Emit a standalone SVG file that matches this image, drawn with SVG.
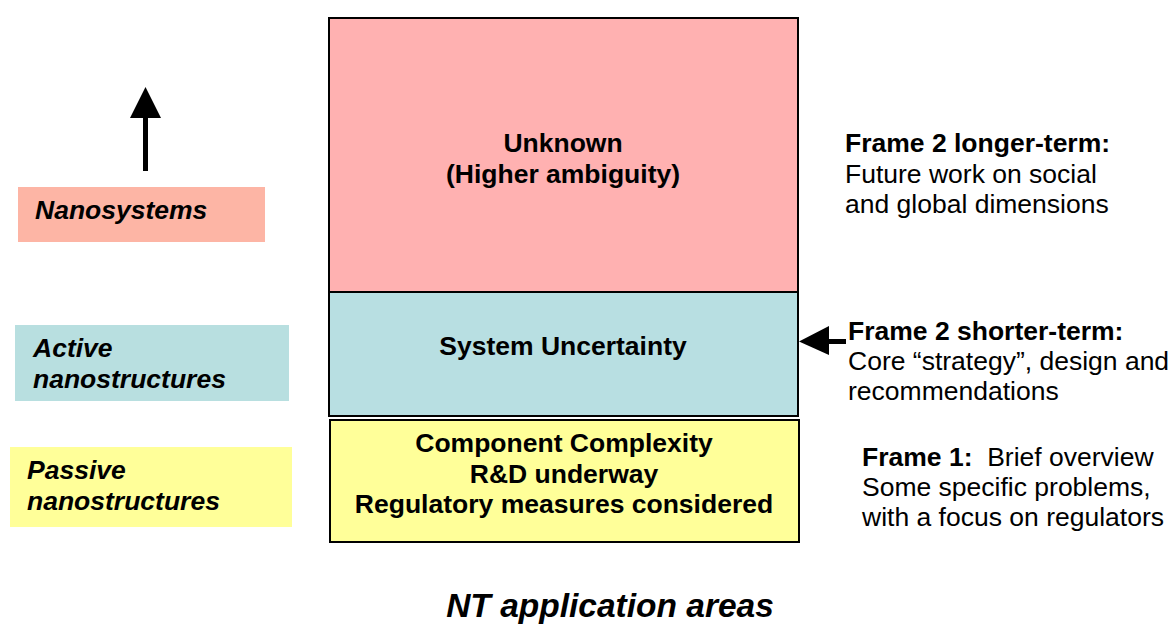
<svg xmlns="http://www.w3.org/2000/svg" width="1173" height="624" viewBox="0 0 1173 624">
<style>
text{font-family:"Liberation Sans",Arial,sans-serif;font-size:26.5px;fill:#000}
.b{font-weight:bold}
.bi{font-weight:bold;font-style:italic}
.c{text-anchor:middle}
.box{stroke:#000;stroke-width:2}
</style>
<rect width="1173" height="624" fill="#fff"/>
<g id="label-nanosystems"><rect x="18" y="187" width="247" height="55" fill="#FDB5A5"/><text class="bi" x="35" y="219">Nanosystems</text></g>
<g id="label-active"><rect x="15" y="325" width="274" height="76" fill="#B8DFE0"/><text class="bi" x="33" y="357">Active</text><text class="bi" x="33" y="388">nanostructures</text></g>
<g id="label-passive"><rect x="10" y="447" width="282" height="80" fill="#FFFF99"/><text class="bi" x="27" y="479">Passive</text><text class="bi" x="27" y="510">nanostructures</text></g>
<g id="unknown"><rect class="box" x="329" y="18" width="469" height="274" fill="#FFB1B1"/><text class="b c" x="563" y="152">Unknown</text><text class="b c" x="563" y="183">(Higher ambiguity)</text></g>
<g id="system"><rect class="box" x="329" y="292" width="469" height="124" fill="#B8DFE2"/><text class="b c" x="563" y="355">System Uncertainty</text></g>
<g id="component"><rect class="box" x="330" y="420" width="469" height="122" fill="#FFFF99"/><text class="b c" x="564" y="452">Component Complexity</text><text class="b c" x="564" y="483">R&amp;D underway</text><text class="b c" x="564" y="513">Regulatory measures considered</text></g>
<g id="frame2-long"><text x="845" y="152"><tspan class="b">Frame 2 longer-term:</tspan></text><text x="845" y="183">Future work on social</text><text x="845" y="213">and global dimensions</text></g>
<g id="frame2-short"><text x="848" y="340"><tspan class="b">Frame 2 shorter-term:</tspan></text><text x="848" y="370">Core “strategy”, design and</text><text x="848" y="400">recommendations</text></g>
<g id="frame1"><text x="862" y="466"><tspan class="b">Frame 1:</tspan>&#160; Brief overview</text><text x="862" y="496">Some specific problems,</text><text x="862" y="526">with a focus on regulators</text></g>
<g id="connectors">
<rect x="143" y="116" width="5" height="55" fill="#000"/>
<polygon points="145.5,87 130,118 161,118" fill="#000"/>
<rect x="826" y="339" width="20" height="5" fill="#000"/>
<polygon points="799,341.5 829,326 829,355" fill="#000"/>
</g>
<text class="bi c" x="610" y="617" style="font-size:33.5px">NT application areas</text>
</svg>
